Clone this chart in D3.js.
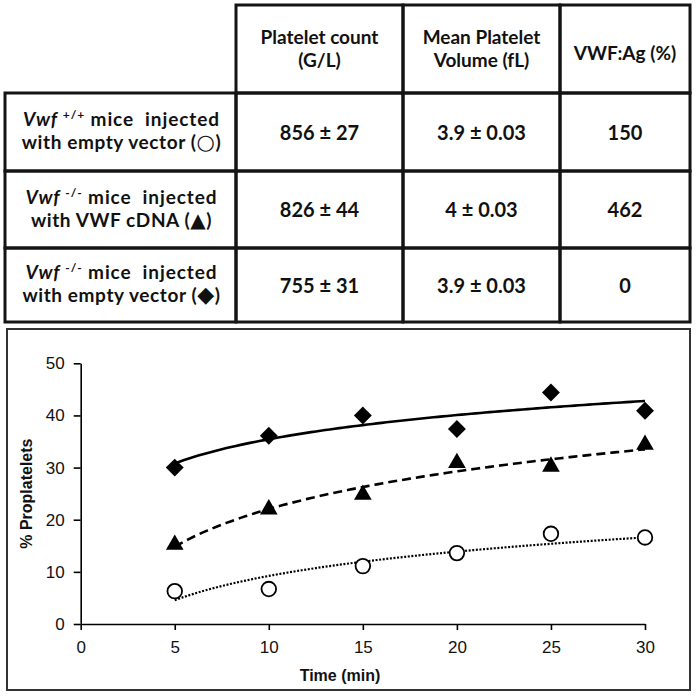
<!DOCTYPE html>
<html><head><meta charset="utf-8">
<script src="https://cdn.jsdelivr.net/npm/d3@7/dist/d3.min.js"></script>
<style>html,body{margin:0;padding:0;background:#fff;}svg{display:block;}</style>
</head><body>
<svg id="c" width="696" height="696"></svg>
<script>
// ---------- DATA ----------
const times = [5, 10, 15, 20, 25, 30];
const vwfPlusEmpty  = [6.3, 6.7, 11.1, 13.6, 17.3, 16.6];   // open circles
const vwfMinusCDNA  = [15.2, 22, 24.8, 30.9, 30.2, 34.4];   // triangles
const vwfMinusEmpty = [30, 36.1, 40, 37.4, 44.4, 40.9];     // diamonds
const xTicks = [0, 5, 10, 15, 20, 25, 30];
const yTicks = [0, 10, 20, 30, 40, 50];

const colHeaders = [["Platelet count", "(G/L)"], ["Mean Platelet", "Volume (fL)"], ["VWF:Ag (%)"]];
const rowGenotype = ["+/+", "-/-", "-/-"];
const rowRest1 = [" mice  injected", " mice  injected", " mice  injected"];
const rowLine2 = ["with empty vector (", "with VWF cDNA (", "with empty vector ("];
const rowSymbol = ["\u25CB", "\u25B2", "\u25C6"];
const plateletCount = ["856 \u00B1 27", "826 \u00B1 44", "755 \u00B1 31"];
const meanVolume = ["3.9 \u00B1 0.03", "4 \u00B1 0.03", "3.9 \u00B1 0.03"];
const vwfAg = ["150", "462", "0"];

// ---------- LAYOUT ----------
const svg = d3.select("#c");
const colX = [5, 236, 403, 560, 690];
const rowY = [5, 93, 171, 248, 322];
const tfont = "Lato, 'Open Sans', sans-serif";
const lineCol = "#141414";

const tbl = svg.append("g");
for (let r = 0; r < 4; r++) {
  for (let c = 0; c < 4; c++) {
    if (r === 0 && c === 0) continue;
    tbl.append("rect")
      .attr("x", colX[c]).attr("y", rowY[r])
      .attr("width", colX[c + 1] - colX[c]).attr("height", rowY[r + 1] - rowY[r])
      .attr("fill", "none").attr("stroke", lineCol).attr("stroke-width", 3);
  }
}
function ttext(size) {
  return tbl.append("text").attr("text-anchor", "middle")
    .attr("font-family", tfont).attr("font-weight", "bold").attr("font-size", size).attr("fill", "#111");
}
// headers
colHeaders.forEach((lines, i) => {
  const cx = (colX[i + 1] + colX[i + 2]) / 2;
  if (lines.length === 2) {
    ttext(19).attr("x", cx).attr("y", 44).text(lines[0]);
    ttext(19).attr("x", cx).attr("y", 67).text(lines[1]);
  } else {
    ttext(19).attr("x", cx).attr("y", 60).text(lines[0]);
  }
});
// rows
const symSize = [21, 20, 22];
for (let r = 0; r < 3; r++) {
  const cy = (rowY[r + 1] + rowY[r + 2]) / 2;
  const cx = (colX[0] + colX[1]) / 2 + 1;
  const t = ttext(19).attr("xml:space", "preserve").attr("letter-spacing", 0.9)
    .attr("x", cx).attr("y", cy - 6);
  t.append("tspan").attr("font-style", "italic").text("Vwf ");
  t.append("tspan").attr("font-size", 12).attr("dy", -7).text(rowGenotype[r]);
  t.append("tspan").attr("dy", 7).text(rowRest1[r]);
  const t2 = ttext(19).attr("letter-spacing", 0.6)
    .attr("x", cx).attr("y", cy + 17);
  t2.append("tspan").text(rowLine2[r]);
  t2.append("tspan").attr("font-family", "'DejaVu Sans', sans-serif").attr("font-size", symSize[r])
    .attr("font-weight", "bold").text(rowSymbol[r]);
  t2.append("tspan").text(")");
  [plateletCount, meanVolume, vwfAg].forEach((arr, c) => {
    ttext(20).attr("x", (colX[c + 1] + colX[c + 2]) / 2).attr("y", cy + 7.5).text(arr[r]);
  });
}

// ---------- CHART ----------
svg.append("rect").attr("x", 7).attr("y", 329).attr("width", 683).attr("height", 361)
  .attr("fill", "none").attr("stroke", "#333").attr("stroke-width", 2);

const x = d3.scaleLinear().domain([0, 30]).range([80.7, 645]);
const y = d3.scaleLinear().domain([0, 50]).range([624, 363.3]);
const afont = "'Liberation Sans', Arial, sans-serif";

const gx = svg.append("g").attr("transform", `translate(0,${y(0)})`)
  .call(d3.axisBottom(x).tickValues(xTicks).tickSize(6).tickSizeOuter(0).tickPadding(11));
const gy = svg.append("g").attr("transform", `translate(${x(0)},0)`)
  .call(d3.axisLeft(y).tickValues(yTicks).tickSize(7).tickSizeOuter(0).tickPadding(9));
[gx, gy].forEach(g => {
  g.select(".domain").attr("stroke", "#000").attr("stroke-width", 1.6);
  g.selectAll(".tick line").attr("stroke", "#000").attr("stroke-width", 1.6);
  g.selectAll(".tick text").attr("font-family", afont).attr("font-size", 17).attr("fill", "#111");
});

svg.append("text").attr("text-anchor", "middle").attr("font-family", afont).attr("font-weight", "bold")
  .attr("font-size", 16).attr("fill", "#111").attr("x", 340).attr("y", 681).text("Time (min)");
svg.append("text").attr("text-anchor", "middle").attr("font-family", afont).attr("font-weight", "bold")
  .attr("font-size", 16).attr("fill", "#111")
  .attr("transform", `translate(32,${(y(0) + y(50)) / 2}) rotate(-90)`).text("% Proplatelets");

// logarithmic least-squares trendline computed from each series
function logFit(xs, ys) {
  const lx = xs.map(Math.log);
  const mx = d3.mean(lx), my = d3.mean(ys);
  const b = d3.sum(lx, (v, i) => (v - mx) * (ys[i] - my)) / d3.sum(lx, v => (v - mx) * (v - mx));
  const a = my - b * mx;
  return t => a + b * Math.log(t);
}
const series = [
  { vals: vwfMinusEmpty, dash: null, width: 2.6, sym: "diamond" },
  { vals: vwfMinusCDNA, dash: "9,5", width: 2.6, sym: "triangle" },
  { vals: vwfPlusEmpty, dash: "2,1.6", width: 2.2, sym: "circle" }
];
const line = d3.line().x(d => x(d[0])).y(d => y(d[1])).curve(d3.curveLinear);
series.forEach(s => {
  const f = logFit(times, s.vals);
  const ts = d3.range(times[0], times[times.length - 1] + 0.001, 0.25);
  svg.append("path").datum(ts.map(t => [t, f(t)])).attr("d", line)
    .attr("fill", "none").attr("stroke", "#000").attr("stroke-width", s.width)
    .attr("stroke-dasharray", s.dash);
});
series.forEach(s => {
  const g = svg.append("g");
  times.forEach((t, i) => {
    const px = x(t), py = y(s.vals[i]);
    if (s.sym === "circle") {
      g.append("circle").attr("cx", px).attr("cy", py).attr("r", 7.3)
        .attr("fill", "#fff").attr("stroke", "#000").attr("stroke-width", 1.8);
    } else if (s.sym === "diamond") {
      g.append("path").attr("d", d3.symbol(d3.symbolSquare, 160)())
        .attr("transform", `translate(${px},${py}) rotate(45)`).attr("fill", "#000");
    } else {
      g.append("path").attr("d", d3.symbol(d3.symbolTriangle, 135)())
        .attr("transform", `translate(${px},${py})`).attr("fill", "#000");
    }
  });
});
</script>
</body></html>
